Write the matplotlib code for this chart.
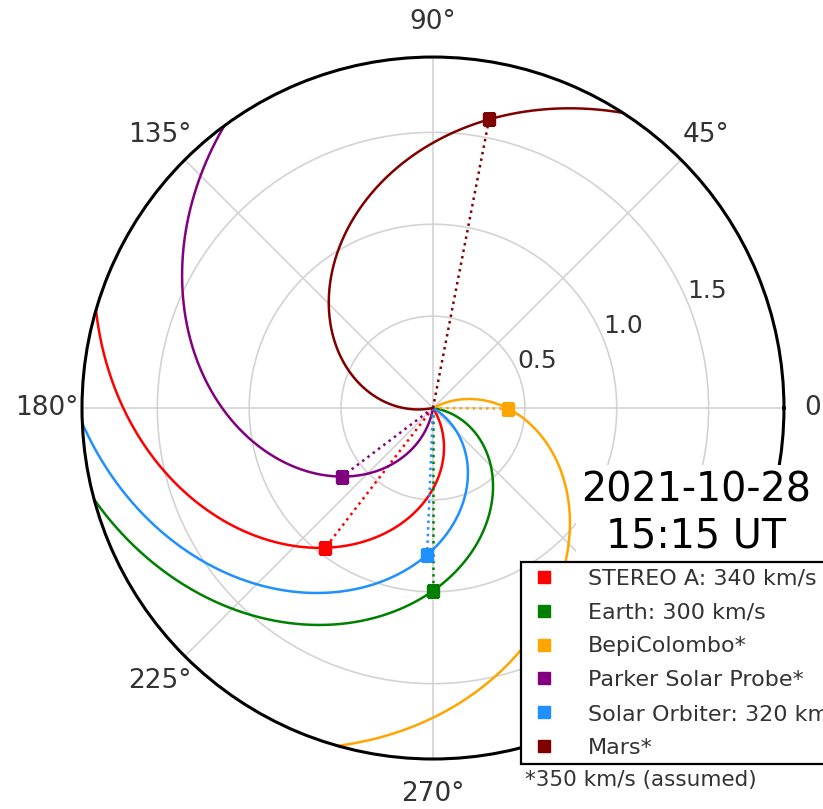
import numpy as np
import matplotlib.pyplot as plt

# bodies: heliocentric distance (AU), longitude (deg), solar wind speed (km/s)
names = ['STEREO A', 'Earth', 'BepiColombo', 'Parker Solar Probe', 'Solar Orbiter', 'Mars']
labels = ['STEREO A: 340 km/s', 'Earth: 300 km/s', 'BepiColombo*',
          'Parker Solar Probe*', 'Solar Orbiter: 320 km/s', 'Mars*']
colors = ['red', 'green', 'orange', 'purple', 'dodgerblue', 'maroon']
dist = [0.96, 0.995, 0.41, 0.62, 0.80, 1.60]
lon = [232.4, 270.0, 359.5, 217.0, 267.7, 79.0]
vsw = [340, 300, 350, 350, 320, 350]

rmax = 1.91
AU = 1.496e8  # km
omega = np.radians(360.0 / (25.38 * 24 * 60 * 60))  # solar sidereal rotation, rad/s

fig = plt.figure(figsize=(8.23, 8.09), dpi=100)
ax = fig.add_axes([0.0996, 0.0618, 0.853, 0.8677], projection='polar')

r = np.linspace(0.0, 2.2, 600)
for name, c, d, l, v in zip(names, colors, dist, lon, vsw):
    alpha = np.radians(l) + omega / (v / AU) * (d - r)
    ax.plot(alpha, r, color=c, lw=1.8)
    ax.plot([np.radians(l), np.radians(l)], [0, d], color=c, ls=':', lw=1.8)
    ax.plot(np.radians(l), d, 's', color=c, ms=8)

ax.set_rmax(rmax)
ax.set_rticks([0.5, 1.0, 1.5])
ax.set_yticklabels(['0.5', '1.0', '1.5'], fontsize=18, color='#333333')
ax.set_rlabel_position(22.5)
# 315 deg sits under the legend box
ax.set_thetagrids(np.arange(0, 360, 45),
                  ['0°', '45°', '90°', '135°', '180°', '225°', '270°', ''],
                  fontsize=19, color='#333333')
ax.tick_params(axis='x', pad=15)
ax.grid(color='lightgrey', lw=1.2)
ax.spines['polar'].set_linewidth(2.2)
ax.spines['polar'].set_color('black')

# legend: markers only
handles = [plt.Line2D([], [], ls='', marker='s', color=c, ms=8) for c in colors]
leg = fig.legend(handles, labels, loc='upper left', bbox_to_anchor=(0.633, 0.305),
                 bbox_transform=fig.transFigure, fontsize=16, fancybox=False,
                 edgecolor='black', framealpha=1, borderpad=0.3, labelspacing=0.62,
                 handlelength=1.5, handletextpad=1.2, borderaxespad=0)
leg.get_frame().set_linewidth(1.6)
for t in leg.get_texts():
    t.set_color('#333333')

fig.text(0.846, 0.365, '2021-10-28\n15:15 UT', fontsize=28.5, ha='center', va='center',
         multialignment='center', linespacing=1.2,
         bbox=dict(facecolor='white', edgecolor='none', pad=4))
fig.text(0.638, 0.036, '*350 km/s (assumed)', fontsize=15.5, ha='left', va='center',
         color='#333333')

fig.savefig('out.png', dpi=100)
